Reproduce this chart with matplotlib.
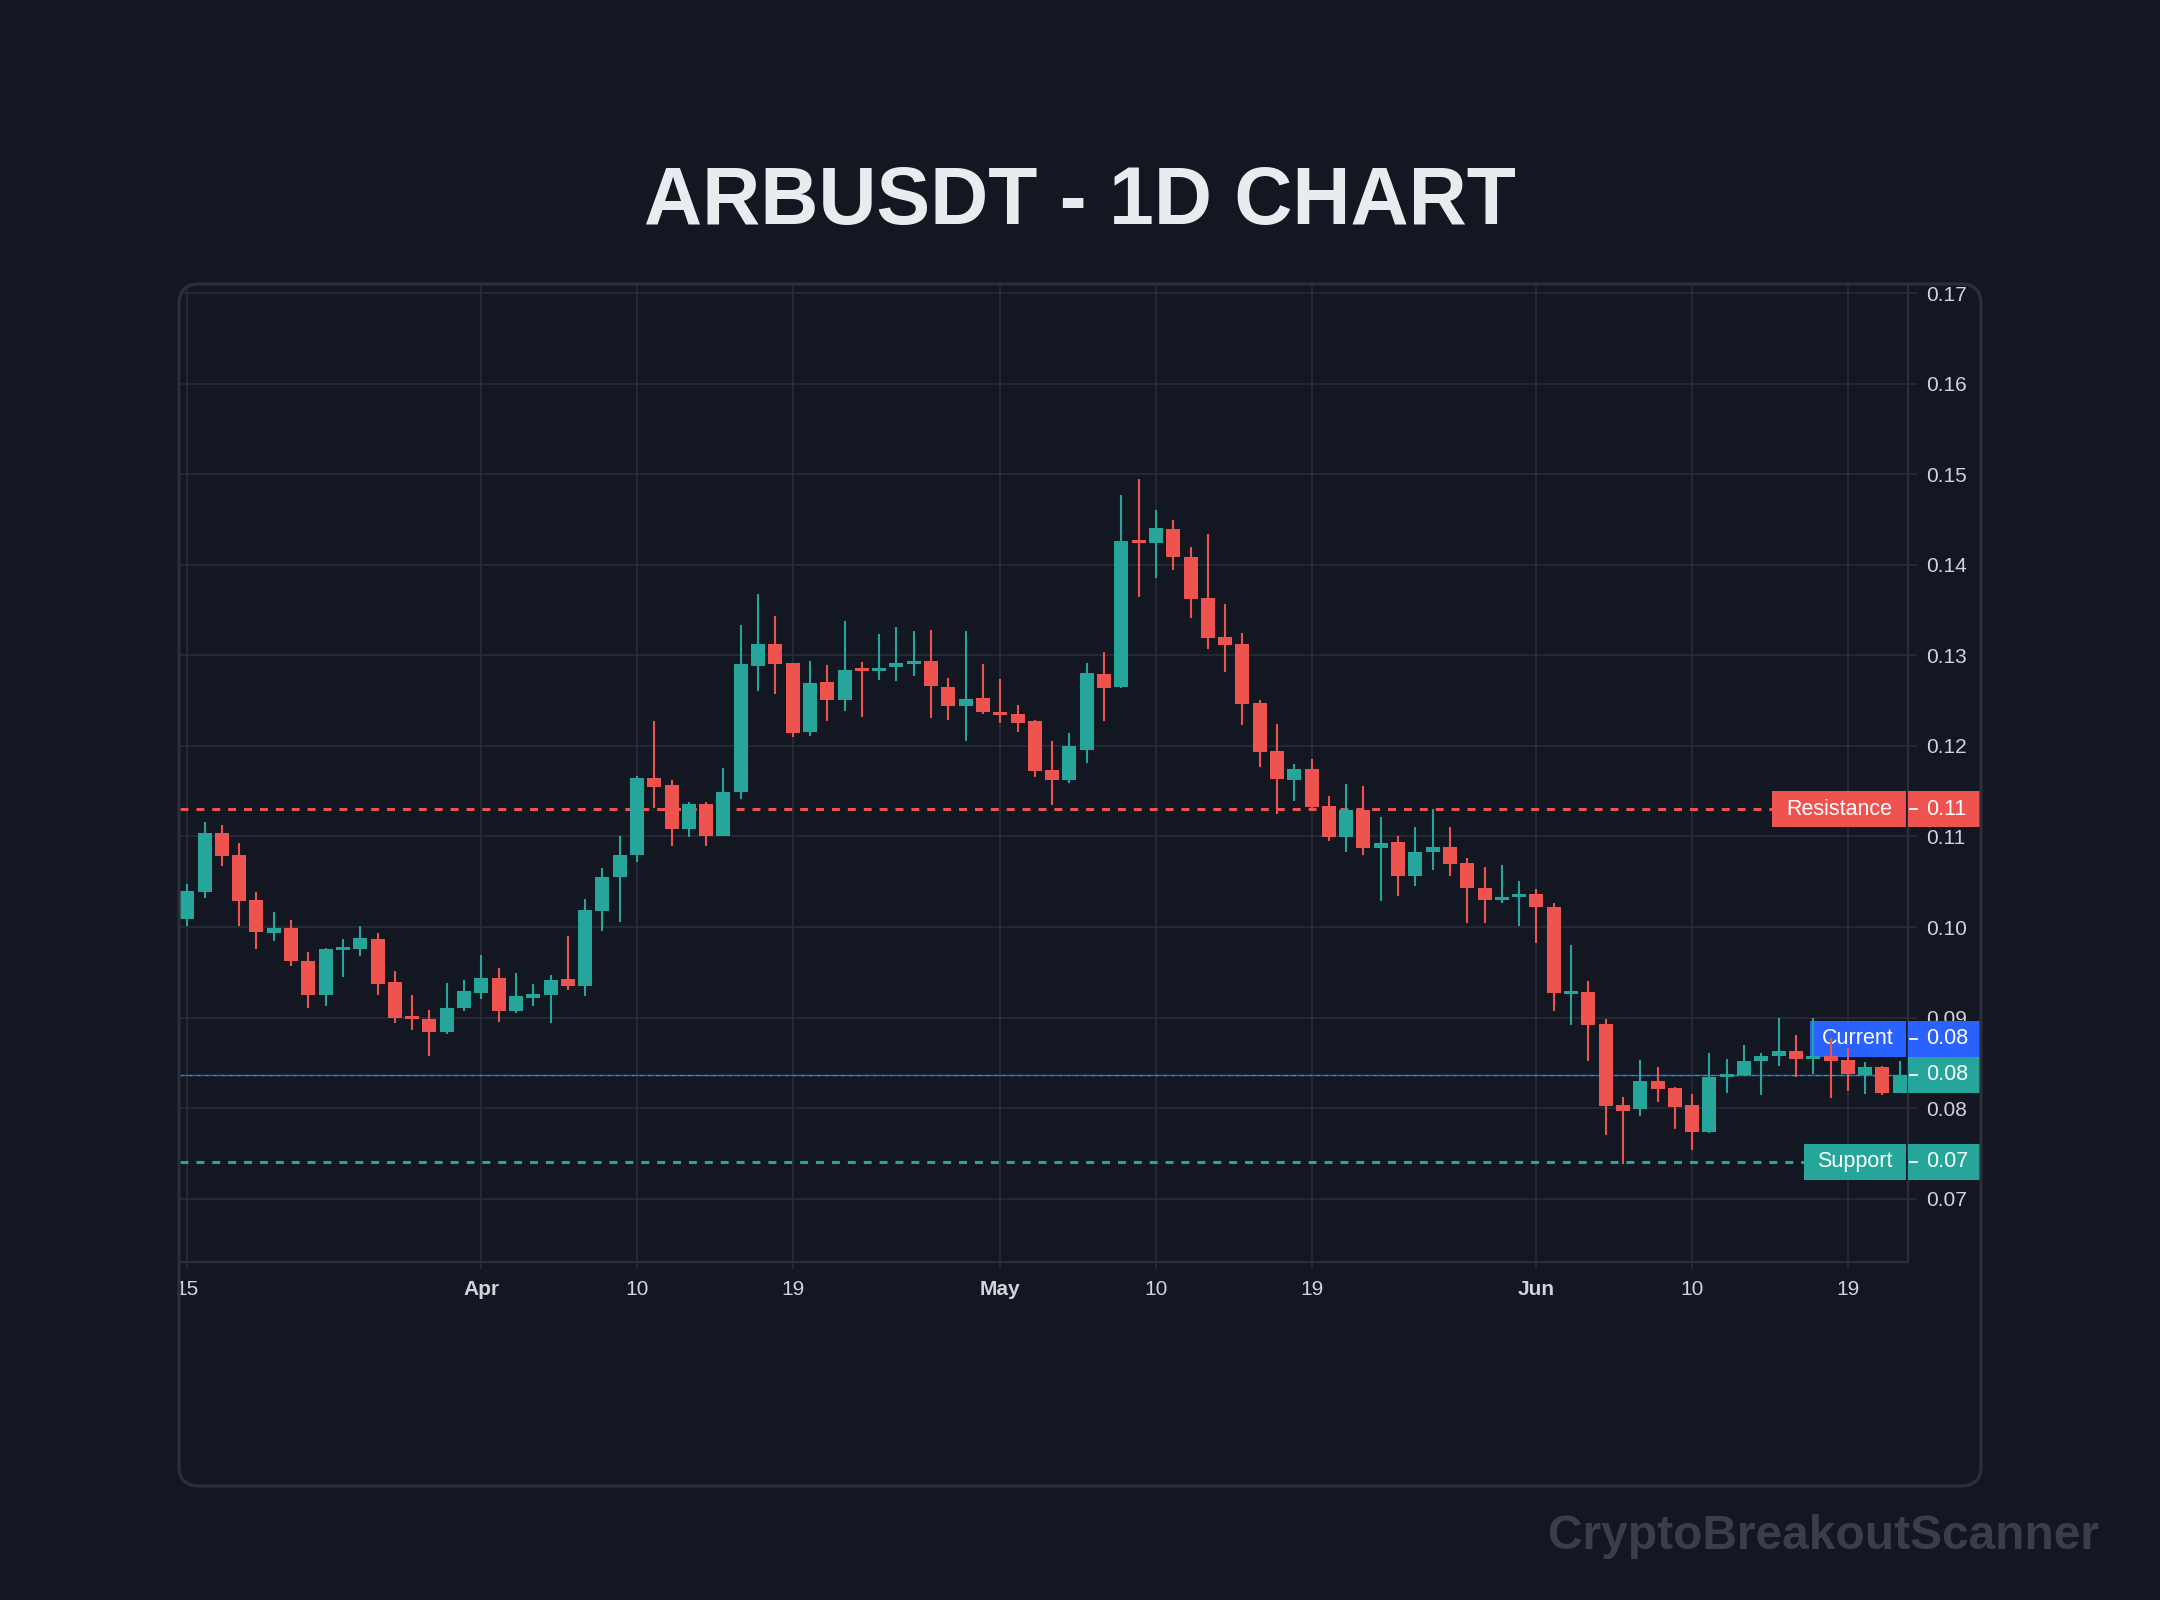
import numpy as np
import pandas as pd
import matplotlib
matplotlib.use('Agg')
import matplotlib.pyplot as plt
from matplotlib.patches import FancyBboxPatch, Rectangle
from matplotlib.transforms import blended_transform_factory, IdentityTransform

plt.rcParams['font.family'] = ['Liberation Sans', 'DejaVu Sans']

# daily candles, Mar 15 -> Jun 22
dates = pd.date_range('2025-03-15', periods=100, freq='D')

opens = [0.1009, 0.1039, 0.1104, 0.1080, 0.1030, 0.0993, 0.0999, 0.0963, 0.0925, 0.0976,
         0.0976, 0.0987, 0.0939, 0.0901, 0.0898, 0.0884, 0.0911, 0.0927, 0.0944, 0.0907,
         0.0922, 0.0925, 0.0943, 0.0935, 0.1018, 0.1055, 0.1079, 0.1165, 0.1157, 0.1108,
         0.1136, 0.1101, 0.1149, 0.1288, 0.1313, 0.1292, 0.1215, 0.1271, 0.1251, 0.1285,
         0.1283, 0.1287, 0.1291, 0.1294, 0.1265, 0.1244, 0.1253, 0.1237, 0.1235, 0.1227,
         0.1173, 0.1162, 0.1196, 0.1280, 0.1265, 0.1426, 0.1424, 0.1440, 0.1409, 0.1363,
         0.1320, 0.1313, 0.1247, 0.1194, 0.1162, 0.1175, 0.1134, 0.1099, 0.1129, 0.1087,
         0.1094, 0.1056, 0.1083, 0.1088, 0.1071, 0.1043, 0.1030, 0.1033, 0.1037, 0.1022,
         0.0927, 0.0928, 0.0893, 0.0803, 0.0799, 0.0830, 0.0822, 0.0803, 0.0774, 0.0835,
         0.0837, 0.0852, 0.0857, 0.0863, 0.0855, 0.0857, 0.0853, 0.0837, 0.0845, 0.0817]
highs = [0.1048, 0.1116, 0.1113, 0.1093, 0.1039, 0.1017, 0.1008, 0.0972, 0.0977, 0.0987,
         0.1001, 0.0993, 0.0951, 0.0925, 0.0908, 0.0938, 0.0941, 0.0969, 0.0955, 0.0949,
         0.0937, 0.0947, 0.0990, 0.1031, 0.1065, 0.1101, 0.1167, 0.1227, 0.1162, 0.1138,
         0.1138, 0.1176, 0.1334, 0.1368, 0.1344, 0.1292, 0.1294, 0.1289, 0.1338, 0.1293,
         0.1324, 0.1331, 0.1327, 0.1328, 0.1275, 0.1327, 0.1290, 0.1274, 0.1245, 0.1229,
         0.1205, 0.1214, 0.1292, 0.1304, 0.1477, 0.1495, 0.1461, 0.1449, 0.1420, 0.1434,
         0.1357, 0.1325, 0.1251, 0.1224, 0.1180, 0.1186, 0.1145, 0.1158, 0.1156, 0.1122,
         0.1100, 0.1110, 0.1130, 0.1110, 0.1076, 0.1066, 0.1069, 0.1051, 0.1042, 0.1027,
         0.0980, 0.0940, 0.0898, 0.0812, 0.0853, 0.0845, 0.0823, 0.0816, 0.0861, 0.0854,
         0.0870, 0.0861, 0.0899, 0.0881, 0.0899, 0.0877, 0.0866, 0.0851, 0.0847, 0.0852]
lows = [0.1001, 0.1032, 0.1067, 0.1001, 0.0976, 0.0985, 0.0957, 0.0911, 0.0913, 0.0945,
        0.0968, 0.0925, 0.0894, 0.0886, 0.0858, 0.0882, 0.0907, 0.0920, 0.0895, 0.0905,
        0.0913, 0.0894, 0.0930, 0.0924, 0.0996, 0.1006, 0.1072, 0.1131, 0.1090, 0.1099,
        0.1089, 0.1100, 0.1141, 0.1261, 0.1257, 0.1210, 0.1211, 0.1227, 0.1239, 0.1232,
        0.1273, 0.1272, 0.1277, 0.1231, 0.1229, 0.1206, 0.1235, 0.1225, 0.1215, 0.1166,
        0.1135, 0.1159, 0.1181, 0.1227, 0.1264, 0.1364, 0.1385, 0.1394, 0.1341, 0.1307,
        0.1282, 0.1223, 0.1177, 0.1125, 0.1139, 0.1131, 0.1095, 0.1083, 0.1079, 0.1029,
        0.1034, 0.1045, 0.1063, 0.1056, 0.1004, 0.1004, 0.1027, 0.1001, 0.0982, 0.0907,
        0.0892, 0.0852, 0.0770, 0.0738, 0.0791, 0.0807, 0.0777, 0.0754, 0.0773, 0.0817,
        0.0836, 0.0815, 0.0847, 0.0834, 0.0838, 0.0811, 0.0819, 0.0816, 0.0814, 0.0817]
closes = [0.1040, 0.1104, 0.1078, 0.1029, 0.0994, 0.0999, 0.0963, 0.0925, 0.0976, 0.0977,
          0.0988, 0.0937, 0.0900, 0.0899, 0.0884, 0.0911, 0.0929, 0.0944, 0.0907, 0.0924,
          0.0926, 0.0942, 0.0935, 0.1019, 0.1055, 0.1079, 0.1165, 0.1155, 0.1108, 0.1136,
          0.1101, 0.1149, 0.1290, 0.1313, 0.1291, 0.1214, 0.1270, 0.1251, 0.1284, 0.1284,
          0.1286, 0.1292, 0.1294, 0.1266, 0.1244, 0.1252, 0.1237, 0.1235, 0.1225, 0.1172,
          0.1162, 0.1200, 0.1281, 0.1264, 0.1426, 0.1425, 0.1441, 0.1409, 0.1362, 0.1319,
          0.1312, 0.1246, 0.1193, 0.1163, 0.1175, 0.1133, 0.1099, 0.1129, 0.1087, 0.1093,
          0.1056, 0.1083, 0.1088, 0.1070, 0.1043, 0.1030, 0.1033, 0.1037, 0.1022, 0.0927,
          0.0929, 0.0892, 0.0802, 0.0797, 0.0830, 0.0821, 0.0801, 0.0774, 0.0834, 0.0837,
          0.0852, 0.0857, 0.0863, 0.0854, 0.0856, 0.0852, 0.0838, 0.0845, 0.0817, 0.0837]

resistance = 0.1130
support = 0.0741
y_ticks = [0.07, 0.08, 0.09, 0.10, 0.11, 0.12, 0.13, 0.14, 0.15, 0.16, 0.17]
tick_dates = ['2025-03-15', '2025-04-01', '2025-04-10', '2025-04-19', '2025-05-01',
              '2025-05-10', '2025-05-19', '2025-06-01', '2025-06-10', '2025-06-19']

bg = '#131722'
grid_c = '#2a2e39'
txt_c = '#d1d4dc'
up = '#26a69a'
down = '#ef5350'
blue = '#2962ff'

W, H = 2160, 1600
fig = plt.figure(figsize=(21.6, 16), dpi=100, facecolor=bg)
ax = fig.add_axes([180/W, 1-1262/H, (1908-180)/W, (1262-286)/H])
ax.set_facecolor(bg)

# rounded panel frame
frame = FancyBboxPatch((179, 114), 1802, 1202, boxstyle='round,pad=0,rounding_size=20',
                       transform=IdentityTransform(), fc='none', ec='#2b2f3a', lw=2.3)
fig.add_artist(frame)

o = np.array(opens)
h = np.array(highs)
l = np.array(lows)
c = np.array(closes)
x = np.arange(len(o))
cols = np.where(c >= o, up, down)

ax.vlines(x, l, h, colors=cols, lw=1.5, zorder=5)
body = np.maximum(np.abs(c-o), 0.0003)
mid = (o+c)/2
ax.bar(x, body, 0.81, bottom=mid-body/2, color=cols, lw=0, zorder=6)

ymin, ymax = 0.0630, 0.1708
ax.set_xlim(-0.42, 99.48)
ax.set_ylim(ymin, ymax)

# date ticks
xt = [dates.get_loc(pd.Timestamp(d)) for d in tick_dates]
xl = []
for d in tick_dates:
    t = pd.Timestamp(d)
    xl.append(t.strftime('%b') if t.day == 1 else str(t.day))
ax.set_xticks(xt)
ax.set_xticklabels(xl)
for lab in ax.get_xticklabels():
    if not lab.get_text().isdigit():
        lab.set_fontweight('bold')

ax.set_yticks(y_ticks)
ax.set_yticklabels(['%.2f' % v for v in y_ticks])
ax.yaxis.tick_right()
ax.grid(True, color=grid_c, lw=1.1, zorder=0)
ax.set_axisbelow(True)
ax.tick_params(axis='y', colors=grid_c, labelcolor=txt_c, length=6.5, width=1.1, pad=6.5, labelsize=15)
ax.tick_params(axis='x', colors=grid_c, labelcolor=txt_c, length=5, width=1.1, pad=8, labelsize=15)
for s in ['top', 'left']:
    ax.spines[s].set_visible(False)
for s in ['right', 'bottom']:
    ax.spines[s].set_color(grid_c)
    ax.spines[s].set_linewidth(1.6)

# price lines
ax.axhline(resistance, color=down, lw=2.2, ls=(0, (2.6, 2.6)), zorder=2)
ax.axhline(support, color=up, lw=2.2, ls=(0, (2.6, 2.6)), zorder=2)
last = c[-1]
ax.axhline(last, color=up, lw=1.0, ls=(0, (2.9, 2.9)), zorder=2)
ax.axhline(last, color=blue, lw=1.0, ls=(2.9, (2.9, 2.9)), zorder=2)

# axis labels for the lines
tr = blended_transform_factory(ax.transAxes, ax.transData)
hh = 18*(ymax-ymin)/976


def fx(px):
    return (px-180)/1728.0


def price_label(y, val, name, color, left_px):
    if name:
        ax.add_patch(Rectangle((fx(left_px), y-hh), fx(1906)-fx(left_px), 2*hh, transform=tr,
                               color=color, clip_on=False, zorder=4, lw=0))
        ax.text(fx((left_px+1906)/2), y, name, transform=tr, color='white', fontsize=15.5,
                ha='center', va='center', zorder=4.5, clip_on=False)
    ax.add_patch(Rectangle((fx(1908), y-hh), fx(1980)-fx(1908), 2*hh, transform=tr,
                           color=color, clip_on=False, zorder=7, lw=0))
    ax.plot([fx(1910), fx(1917)], [y, y], color='white', lw=1.3, transform=tr, clip_on=False, zorder=8)
    ax.text(fx(1926), y, '%.2f' % val, transform=tr, color='white', fontsize=15.5,
            ha='left', va='center', zorder=8, clip_on=False)


price_label(resistance, resistance, 'Resistance', down, 1772)
price_label(support, support, 'Support', up, 1804)
price_label(last, last, None, up, 1908)
price_label(last+2*hh, last, 'Current', blue, 1810)

fig.text(0.5, 1-224/H, 'ARBUSDT - 1D CHART', ha='center', va='baseline',
         fontsize=58, fontweight='bold', color='#e9ebef')
fig.text(2099/W, 1-1549/H, 'CryptoBreakoutScanner', ha='right', va='baseline',
         fontsize=34.5, fontweight='bold', color='#3a3e48')

fig.savefig('out.png', dpi=100, facecolor=bg)
